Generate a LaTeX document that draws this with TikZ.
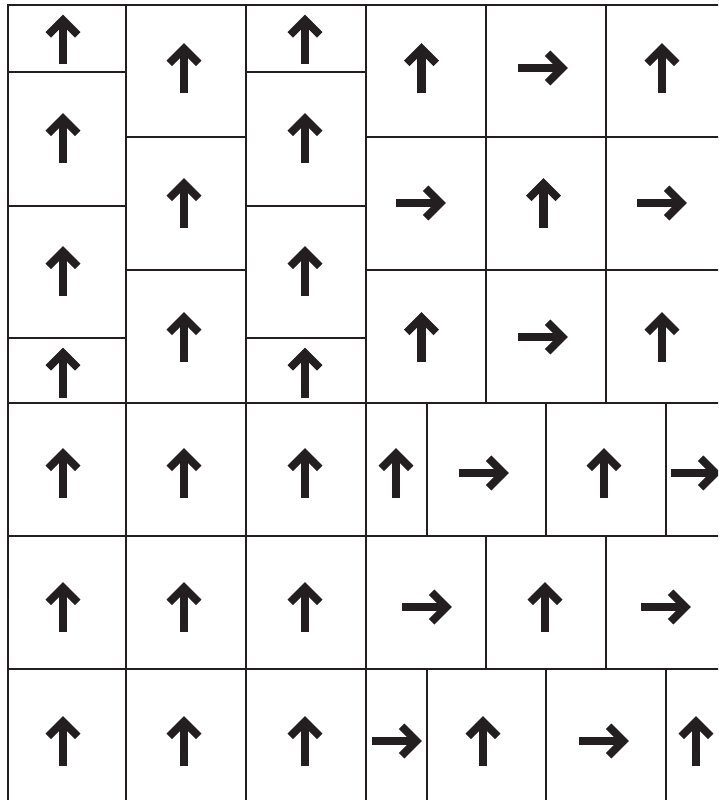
\documentclass[tikz,border=0pt]{standalone}
\definecolor{ink}{HTML}{231F20}
\tikzset{
  gridline/.style={draw=ink, line width=2.6pt, line cap=rect},
  shaftline/.style={draw=ink, line width=8.2pt, line cap=butt},
  headline/.style={draw=ink, line width=7.8pt, line cap=butt, line join=miter, miter limit=10},
  uarr/.pic={
    \draw[shaftline] (0,25) -- (0,-18);
    \draw[headline] (-14.7,-4.6) -- (0,-19.3) -- (14.7,-4.6);
  },
  rarr/.pic={
    \draw[shaftline] (-25,0) -- (18,0);
    \draw[headline] (4.6,-14.7) -- (19.3,0) -- (4.6,14.7);
  }
}
\begin{document}
\begin{tikzpicture}[x=1pt,y=-1pt]
\useasboundingbox (0,0) rectangle (718,800);
\clip (0,0) rectangle (718,800);
% horizontal lines
\draw[gridline] (8,5) -- (730,5);
\draw[gridline] (8,403) -- (730,403);
\draw[gridline] (8,536) -- (730,536);
\draw[gridline] (8,669) -- (730,669);
\draw[gridline] (126,137) -- (246,137) (366,137) -- (730,137);
\draw[gridline] (126,270) -- (246,270) (366,270) -- (730,270);
\draw[gridline] (8,72) -- (126,72) (246,72) -- (366,72);
\draw[gridline] (8,206) -- (126,206) (246,206) -- (366,206);
\draw[gridline] (8,338) -- (126,338) (246,338) -- (366,338);
% vertical lines
\draw[gridline] (8,5) -- (8,810);
\draw[gridline] (126,5) -- (126,810);
\draw[gridline] (246,5) -- (246,810);
\draw[gridline] (366,5) -- (366,810);
\draw[gridline] (486,5) -- (486,403) (486,536) -- (486,669);
\draw[gridline] (606,5) -- (606,403) (606,536) -- (606,669);
\draw[gridline] (427,403) -- (427,536) (427,669) -- (427,810);
\draw[gridline] (546,403) -- (546,536) (546,669) -- (546,810);
\draw[gridline] (666,403) -- (666,536) (666,669) -- (666,810);
% left block: columns 0 and 2 (half-offset cells)
\foreach \x in {63,305}{
  \foreach \y in {39.5,138,271,372.5}{
    \pic at (\x,\y) {uarr};
  }
}
% column 1
\foreach \y in {68,203,337}{
  \pic at (184,\y) {uarr};
}
% right top block
\pic at (421.5,68) {uarr};
\pic at (543,68) {rarr};
\pic at (662,68) {uarr};
\pic at (421,203) {rarr};
\pic at (543.5,203) {uarr};
\pic at (662,203) {rarr};
\pic at (421.5,337) {uarr};
\pic at (543,337) {rarr};
\pic at (662,337) {uarr};
% lower rows, columns 0-2
\foreach \x in {63,184,305}{
  \foreach \y in {473,607,741}{
    \pic at (\x,\y) {uarr};
  }
}
% row 3
\pic at (396,473) {uarr};
\pic at (484,473) {rarr};
\pic at (604,473) {uarr};
\pic at (696,473) {rarr};
% row 4
\pic at (427,607) {rarr};
\pic at (545,607) {uarr};
\pic at (666,607) {rarr};
% row 5
\pic at (397,741) {rarr};
\pic at (483,741) {uarr};
\pic at (604,741) {rarr};
\pic at (696,741) {uarr};
\end{tikzpicture}
\end{document}
